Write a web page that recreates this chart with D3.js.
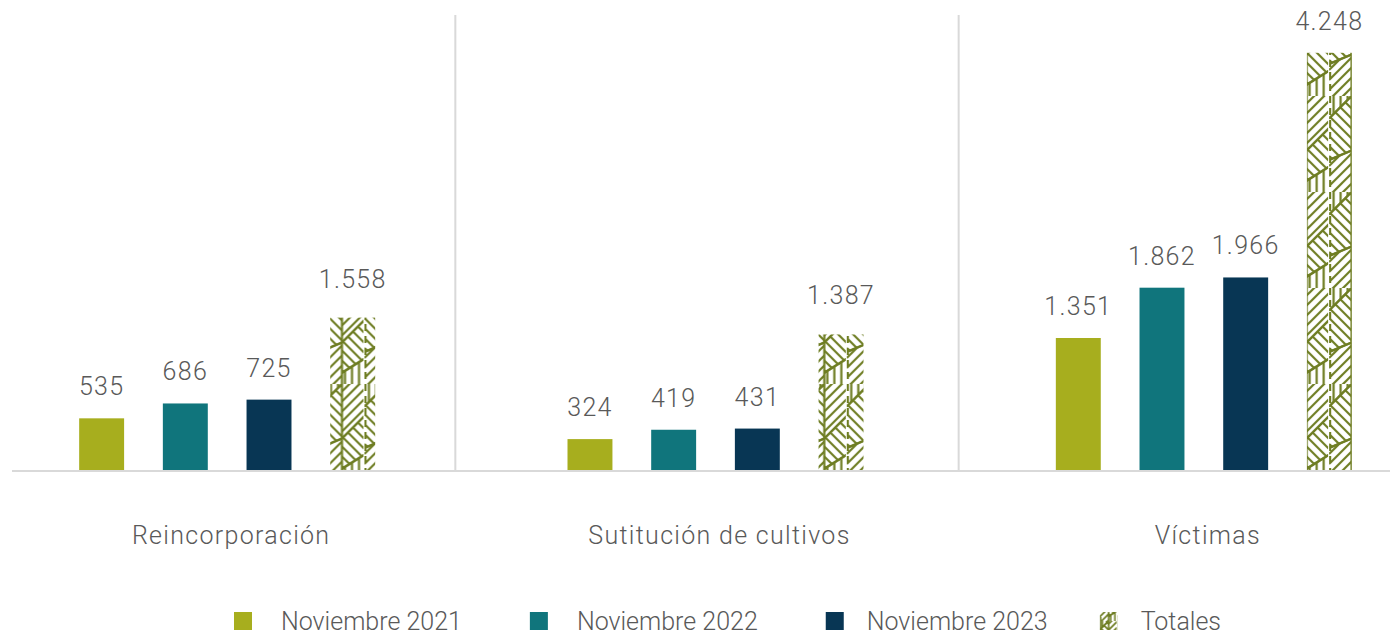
<!DOCTYPE html>
<html>
<head>
<meta charset="utf-8">
<script src="https://cdn.jsdelivr.net/npm/d3@7"></script>
<style>
  html, body { margin: 0; padding: 0; background: #fff; }
  svg { display: block; font-family: Roboto, "Noto Sans", sans-serif; }
</style>
</head>
<body>
<svg id="chart" width="1390" height="637"></svg>
<script>
const categories = ["Reincorporación", "Sutitución de cultivos", "Víctimas"];
const seriesNames = ["Noviembre 2021", "Noviembre 2022", "Noviembre 2023", "Totales"];
const nov2021 = [535, 324, 1351];
const nov2022 = [686, 419, 1862];
const nov2023 = [725, 431, 1966];
const totales = [1558, 1387, 4248];
const seriesValues = [nov2021, nov2022, nov2023, totales];
const colors = ["#A7AE1E", "#10757C", "#083654", "url(#parquet)"];

const W = 1390, H = 637;
const baseY = 471, topY = 15;
const svg = d3.select("#chart");

const locale = d3.formatLocale({decimal: ",", thousands: ".", grouping: [3], currency: ["", ""]});
const fmt = locale.format(",");

// pattern for Totales (parquet of vertical and diagonal line groups)
const olive = "#6E7D22";
const defs = svg.append("defs");
function makePattern(id, w, h, xOff, sp, sw) {
  const p = defs.append("pattern").attr("id", id)
    .attr("patternUnits", "userSpaceOnUse")
    .attr("width", w).attr("height", h)
    .attr("x", xOff).attr("y", 0);
  p.append("rect").attr("width", w).attr("height", h).attr("fill", "#fff");
  const hw = w / 2, hh = h / 3;
  const cid = id + "_c";
  const regions = [
    {pts: [[0, 0], [hw, 0], [0, hw]], type: "v"},
    {pts: [[0, hw], [hw, 0], [hw, hh + hw], [0, hh * 2]], type: "b"},
    {pts: [[0, hh * 2], [hw, hh + hw], [hw, h], [0, h]], type: "f"},
    {pts: [[hw, 0], [w, 0], [w, hh], [hw, hh + hw]], type: "f"},
    {pts: [[hw, hh + hw], [w, hh], [w, hh * 2 + hw * 0.3], [hw, h - hw * 0.5]], type: "b"},
    {pts: [[hw, h - hw * 0.5], [w, hh * 2 + hw * 0.3], [w, h], [hw, h]], type: "v"}
  ];
  regions.forEach((r, ri) => {
    defs.append("clipPath").attr("id", cid + ri)
      .append("polygon").attr("points", r.pts.map(d => d.join(",")).join(" "));
    const g = p.append("g").attr("clip-path", `url(#${cid + ri})`)
      .attr("stroke", olive).attr("stroke-width", sw).attr("fill", "none");
    if (r.type === "v") {
      for (let x = sp * 0.45; x < w; x += sp * 0.7) g.append("line").attr("x1", x).attr("x2", x).attr("y1", 0).attr("y2", h);
    } else if (r.type === "b") {
      for (let k = -12; k <= 14; k++) g.append("line").attr("x1", 0).attr("y1", k * sp).attr("x2", w + h).attr("y2", k * sp + w + h);
    } else {
      for (let k = -4; k <= 24; k++) g.append("line").attr("x1", 0).attr("y1", k * sp).attr("x2", w + h).attr("y2", k * sp - w - h);
    }
    // diagonal borders only
    r.pts.forEach((a, ai) => {
      const b = r.pts[(ai + 1) % r.pts.length];
      const horizontal = a[1] === b[1];
      const outer = (a[0] === b[0]) && (a[0] === 0 || a[0] === w || a[0] === hw);
      if (!horizontal && !outer) {
        p.append("line").attr("x1", a[0]).attr("y1", a[1]).attr("x2", b[0]).attr("y2", b[1])
          .attr("stroke", olive).attr("stroke-width", sw);
      }
    });
  });
  p.append("line").attr("x1", hw).attr("x2", hw).attr("y1", 0).attr("y2", h)
    .attr("stroke", olive).attr("stroke-width", sw);
  p.append("rect").attr("x", w - 1).attr("y", 0).attr("width", 1).attr("height", h).attr("fill", "#fff");
  p.append("line").attr("x1", 1).attr("x2", 1).attr("y1", 0).attr("y2", h)
    .attr("stroke", olive).attr("stroke-width", sw).attr("stroke-dasharray", "7,5");
}

// scales
const x0 = d3.scaleBand().domain(categories).range([-17, 1448]).padding(0);
const groupW = 296;
const x1 = d3.scaleBand().domain(seriesNames).range([0, groupW]).paddingInner(0.463).paddingOuter(0);
const y = d3.scaleLinear().domain([0, 4632]).range([baseY, topY]);

// patterns per group (aligned to bar x)
categories.forEach((c, i) => {
  const gx = x0(c) + x0.bandwidth() / 2 - groupW / 2 + x1("Totales");
  makePattern("parquet" + i, x1.bandwidth(), 96, gx, 10, 2.2);
});
makePattern("parquetLegend", 18, 40, 0, 6, 1.6);

// separators
svg.append("g").selectAll("line").data(categories.slice(1)).join("line")
  .attr("x1", d => x0(d) - (d === categories[1] ? 16 : 1)).attr("x2", d => x0(d) - (d === categories[1] ? 16 : 1))
  .attr("y1", y.range()[1]).attr("y2", baseY)
  .attr("stroke", "#d9d9d9").attr("stroke-width", 2);

// bars
const groups = svg.append("g").selectAll("g").data(categories).join("g")
  .attr("transform", d => `translate(${x0(d) + x0.bandwidth() / 2 - groupW / 2},0)`);

groups.each(function(c, ci) {
  const data = seriesNames.map((s, si) => ({s, si, v: seriesValues[si][ci]}));
  const g = d3.select(this);
  g.selectAll("rect").data(data).join("rect")
    .attr("x", d => x1(d.s))
    .attr("width", x1.bandwidth())
    .attr("y", d => y(d.v))
    .attr("height", d => baseY - y(d.v))
    .attr("fill", d => d.si === 3 ? `url(#parquet${ci})` : colors[d.si]);
  g.selectAll("text").data(data).join("text")
    .attr("x", d => x1(d.s) + x1.bandwidth() / 2)
    .attr("y", d => y(d.v) - (d.si === 3 && ci < 2 ? 30 : 23))
    .attr("text-anchor", "middle")
    .attr("font-size", 25)
    .attr("font-weight", 300)
    .attr("letter-spacing", "1.3px")
    .attr("fill", "#595959")
    .text(d => fmt(d.v));
});

// baseline axis
const axis = d3.axisBottom(x0).tickSize(0).tickPadding(0);
const ax = svg.append("g").attr("transform", `translate(0,${baseY})`).call(axis);
ax.select(".domain").remove();
ax.append("line").attr("x1", 12).attr("x2", W).attr("y1", 0).attr("y2", 0)
  .attr("stroke", "#d9d9d9").attr("stroke-width", 2);
ax.selectAll(".tick text")
  .attr("y", 73)
  .attr("dy", 0)
  .attr("dx", 4)
  .attr("font-size", 25)
  .attr("font-weight", 300)
  .attr("letter-spacing", "1.3px")
  .attr("fill", "#595959")
  .attr("font-family", "Roboto, sans-serif");

// legend
const legend = svg.append("g");
const items = legend.selectAll("g").data(seriesNames).join("g");
items.append("rect").attr("width", 18).attr("height", 18).attr("y", -9)
  .attr("fill", (d, i) => i === 3 ? "url(#parquetLegend)" : colors[i]);
items.append("text").attr("x", (d, i) => i < 2 ? 47 : 41).attr("dy", "0.35em")
  .attr("font-size", 25).attr("font-weight", 300).attr("fill", "#595959")
  .text(d => d);
let cx = 0;
const pos = [];
items.each(function(d, i) {
  pos.push(cx);
  const tw = d3.select(this).select("text").node().getComputedTextLength();
  cx += (i < 2 ? 47 : 41) + tw + (i < 2 ? 68 : 52);
});
const startX = 234;
items.attr("transform", (d, i) => `translate(${startX + pos[i]},621)`);
</script>
</body>
</html>
